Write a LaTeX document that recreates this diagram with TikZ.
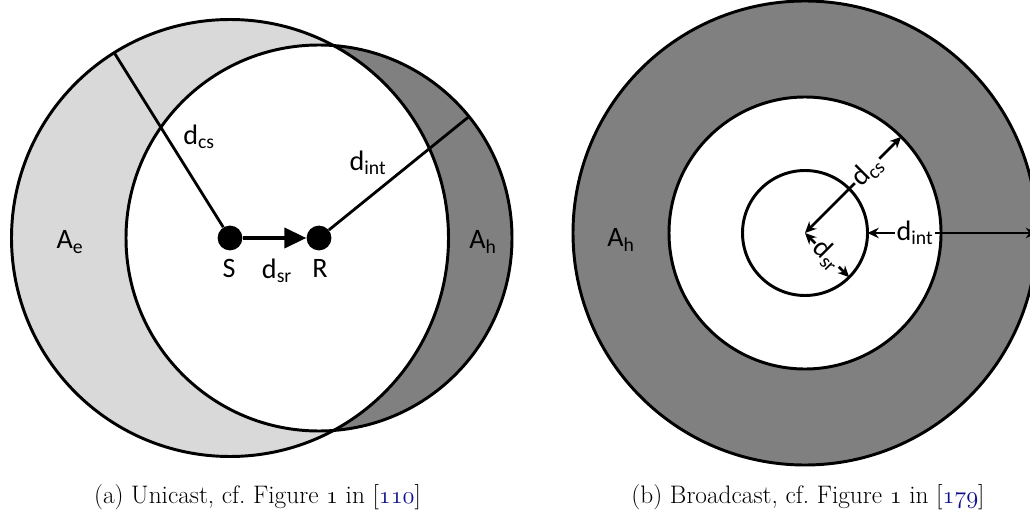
\documentclass[tikz,border=0pt]{standalone}
\usepackage{fontspec}
\usepackage{xcolor}
\usetikzlibrary{arrows.meta, calc}
\newfontfamily\carlito{Carlito}
\definecolor{citeblue}{rgb}{0.05,0.05,0.55}
\newcommand{\osnum}[1]{$\mathnormal{#1}$}
\tikzstyle{rim}     = [line width=2.1pt]
\tikzstyle{dot}     = [circle, fill=black, inner sep=0pt, minimum size=0.62cm]
\tikzstyle{lbl}     = [font=\carlito\fontsize{20}{24}\selectfont, inner sep=1pt]
\tikzstyle{radius line} = [line width=2pt]
\tikzstyle{hop}     = [-{Triangle[length=0.55cm, width=0.5cm]}, line width=2.8pt]
\tikzstyle{span}    = [{Stealth[length=2.8mm, width=2.6mm]}-{Stealth[length=2.8mm, width=2.6mm]},
                       line width=1.8pt]
\tikzstyle{captext} = [font=\fontsize{18}{21}\selectfont, anchor=base]

\begin{document}
\begin{tikzpicture}[x=0.025cm, y=0.025cm]
  \useasboundingbox (0,0) rectangle (1030,521);

  % (a) unicast
  \coordinate (sc) at (230,283);
  \coordinate (rc) at (319,283);
  \fill[black!15] (sc) circle[radius=218.5];
  \fill[black!50] (rc) circle[radius=193];
  \begin{scope}
    \clip (sc) circle[radius=218.5];
    \fill[white] (rc) circle[radius=193];
  \end{scope}
  \draw[rim] (sc) circle[radius=218.5];
  \draw[rim] (rc) circle[radius=193];

  \node[dot] (S) at (sc) {};
  \node[dot] (R) at (rc) {};
  \coordinate (cs) at ($(sc)+(122:218.5)$);
  \coordinate (int) at ($(rc)+(39:193)$);
  \draw[radius line] (S) -- (cs);
  \draw[radius line] (R) -- (int);
  \draw[hop] (S) -- (R);

  \node[lbl] (ls) at (229,253) {S};
  \node[lbl] (lr) at (320,253) {R};
  \node[lbl] (lsr) at (277,250) {d\textsubscript{sr}};
  \node[lbl] (lcs) at (199,384) {d\textsubscript{cs}};
  \node[lbl] (lint) at (368,358) {d\textsubscript{int}};
  \node[lbl] (ae) at (70,279) {A\textsubscript{e}};
  \node[lbl] (ah) at (483,279) {A\textsubscript{h}};

  % (b) broadcast
  \coordinate (c) at (805,288);
  \fill[black!50] (c) circle[radius=232];
  \draw[rim] (c) circle[radius=232];
  \draw[rim, fill=white] (c) circle[radius=136];
  \draw[rim] (c) circle[radius=62.5];

  \coordinate (cs2) at ($(c)+(45:136)$);
  \coordinate (sr2) at ($(c)+(-45:62.5)$);
  \coordinate (in2) at ($(c)+(62.5,0)$);
  \coordinate (out2) at ($(c)+(232,0)$);
  \draw[span] (c) -- node[lbl, pos=0.645, sloped, fill=white] (lcs2) {d\textsubscript{cs}} (cs2);
  \draw[span] (c) -- node[lbl, pos=0.5, sloped, fill=white] (lsr2) {d\textsubscript{sr}} (sr2);
  \draw[span] (in2) -- node[lbl, pos=0.28, fill=white] (lint2) {d\textsubscript{int}} (out2);
  \node[lbl] (ah2) at (621,281) {A\textsubscript{h}};

  % captions
  \node[captext] (capa) at (257.5,18)
    {(a) Unicast, cf.\ Figure \osnum{1} in [\textcolor{citeblue}{\osnum{110}}]};
  \node[captext] (capb) at (808,18)
    {(b) Broadcast, cf.\ Figure \osnum{1} in [\textcolor{citeblue}{\osnum{179}}]};
\end{tikzpicture}
\end{document}
